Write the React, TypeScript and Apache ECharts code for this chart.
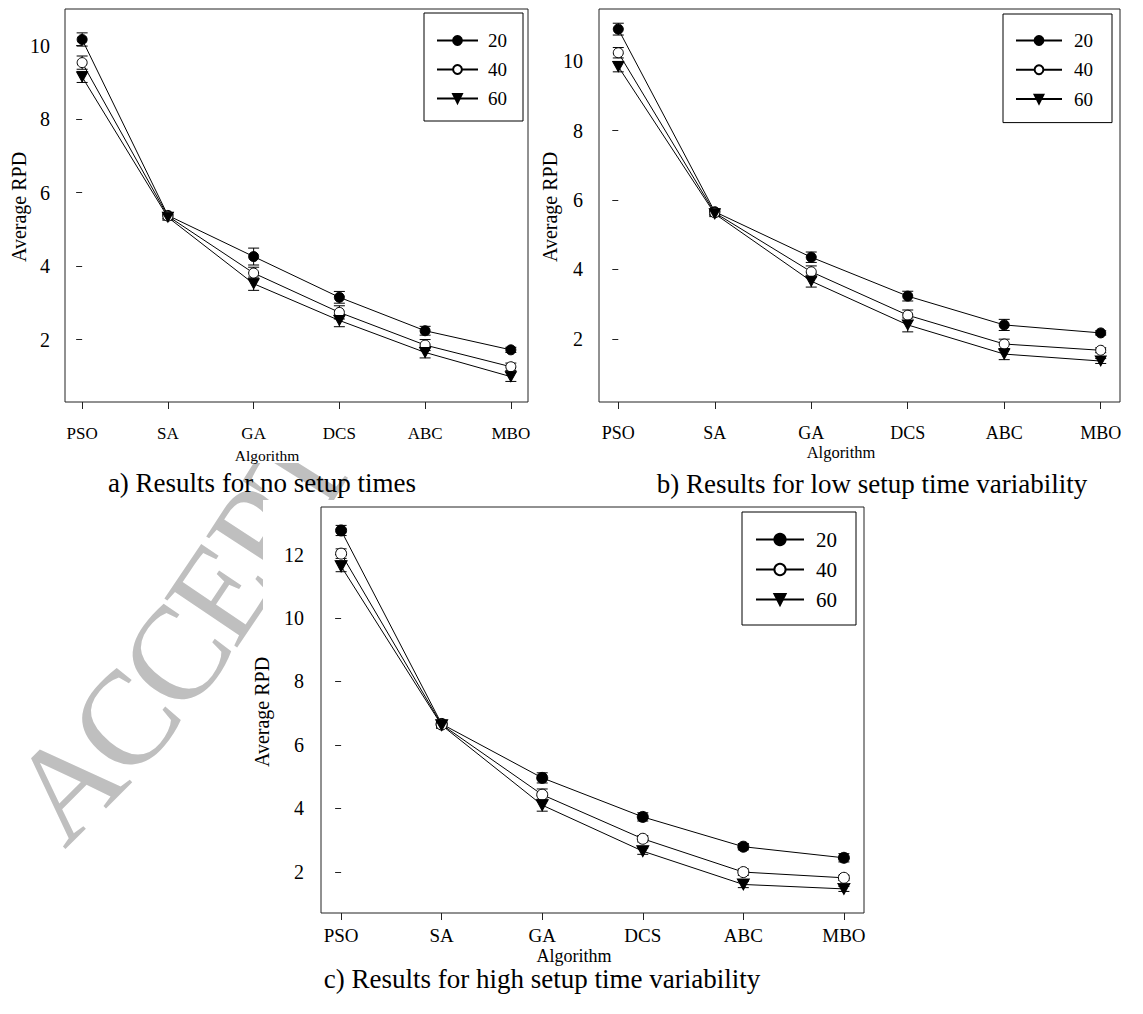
import React, { useEffect, useRef } from "react";
import * as echarts from "echarts";

const categories = ["PSO", "SA", "GA", "DCS", "ABC", "MBO"];
const groupNames = ["20", "40", "60"];

// a) no setup times
const a20 = [10.17, 5.38, 4.26, 3.15, 2.24, 1.72];
const a40 = [9.54, 5.36, 3.81, 2.74, 1.85, 1.26];
const a60 = [9.15, 5.33, 3.52, 2.52, 1.65, 0.99];
const errA20 = [0.18, 0.08, 0.23, 0.16, 0.12, 0.07];
const errA40 = [0.18, 0.08, 0.16, 0.18, 0.15, 0.1];
const errA60 = [0.15, 0.08, 0.18, 0.17, 0.15, 0.13];

// b) low setup time variability
const b20 = [10.92, 5.66, 4.35, 3.23, 2.4, 2.17];
const b40 = [10.24, 5.63, 3.93, 2.68, 1.85, 1.67];
const b60 = [9.84, 5.6, 3.66, 2.4, 1.56, 1.36];
const errB20 = [0.17, 0.08, 0.15, 0.14, 0.16, 0.06];
const errB40 = [0.15, 0.08, 0.17, 0.15, 0.14, 0.07];
const errB60 = [0.15, 0.08, 0.17, 0.2, 0.16, 0.07];

// c) high setup time variability
const c20 = [12.76, 6.66, 4.96, 3.73, 2.79, 2.44];
const c40 = [12.03, 6.64, 4.43, 3.04, 1.99, 1.81];
const c60 = [11.63, 6.62, 4.1, 2.65, 1.6, 1.46];
const errC20 = [0.16, 0.1, 0.16, 0.13, 0.1, 0.13];
const errC40 = [0.15, 0.1, 0.18, 0.1, 0.1, 0.08];
const errC60 = [0.17, 0.1, 0.19, 0.1, 0.1, 0.08];

const yTicksA = [2, 4, 6, 8, 10];
const yTicksB = [2, 4, 6, 8, 10];
const yTicksC = [2, 4, 6, 8, 10, 12];

const captions = [
  "a) Results for no setup times",
  "b) Results for low setup time variability",
  "c) Results for high setup time variability",
];
const xName = "Algorithm";
const yName = "Average RPD";
const watermarkLetters = ["A", "C", "C", "E", "P", "T"];

const FONT = "'Liberation Serif', 'Times New Roman', serif";
const INK = "#000";
const FRAME = "#222";
const TRI = "path://M0,0 L10,0 L5,9 Z";

const panels = [
  {
    grid: { left: 65, top: 9, width: 463, height: 393 },
    yMin: 0.3, yMax: 11, yTicks: yTicksA,
    values: [a20, a40, a60], errors: [errA20, errA40, errA60],
    xLabelSize: 17, xLabelMargin: 23, yLabelMargin: 15, symbolSize: 10, xNameSize: 15.5,
    legend: { left: 424, top: 13, padding: [18, 16, 13, 12], itemWidth: 41, itemHeight: 11, fontSize: 19, lineHeight: 18, itemGap: 10, textPad: 5 },
    xNamePos: [267, 455], yNamePos: [19, 207], captionPos: [262, 483],
  },
  {
    grid: { left: 599, top: 9, width: 521, height: 393 },
    yMin: 0.18, yMax: 11.5, yTicks: yTicksB,
    values: [b20, b40, b60], errors: [errB20, errB40, errB60],
    xLabelSize: 18, xLabelMargin: 22, yLabelMargin: 16, symbolSize: 10, xNameSize: 16.5,
    legend: { left: 1003, top: 14, padding: [17, 19, 14, 12], itemWidth: 46, itemHeight: 11, fontSize: 19, lineHeight: 18, itemGap: 10.3, textPad: 7 },
    xNamePos: [841, 452], yNamePos: [550, 207], captionPos: [872, 484],
  },
  {
    grid: { left: 321, top: 507, width: 543, height: 406 },
    yMin: 0.7, yMax: 13.5, yTicks: yTicksC,
    values: [c20, c40, c60], errors: [errC20, errC40, errC60],
    xLabelSize: 19, xLabelMargin: 13, yLabelMargin: 17, symbolSize: 11, xNameSize: 18,
    legend: { left: 742, top: 512, padding: [17, 19, 15, 13], itemWidth: 48, itemHeight: 14, fontSize: 21, lineHeight: 20, itemGap: 9, textPad: 7 },
    xNamePos: [574, 956], yNamePos: [262, 712], captionPos: [542, 979],
  },
];

const seriesLook = [
  { symbol: "circle", fill: "#000" },
  { symbol: "circle", fill: "#fff" },
  { symbol: TRI, fill: "#000" },
];

function errorBarRender(params: any, api: any) {
  const x = api.value(0);
  const y = api.value(1);
  const e = api.value(2);
  const top = api.coord([x, y + e]);
  const bot = api.coord([x, y - e]);
  const hw = 5.5;
  const style = { stroke: INK, lineWidth: 1 };
  return {
    type: "group",
    children: [
      { type: "line", shape: { x1: top[0], y1: top[1], x2: bot[0], y2: bot[1] }, style },
      { type: "line", shape: { x1: top[0] - hw, y1: top[1], x2: top[0] + hw, y2: top[1] }, style },
      { type: "line", shape: { x1: bot[0] - hw, y1: bot[1], x2: bot[0] + hw, y2: bot[1] }, style },
    ],
  };
}

function buildWatermark() {
  // letters follow a gently bending stamp line, bottom-left to upper-right
  const out: any[] = [];
  const size = 134;
  const advance = [0.72, 0.667, 0.667, 0.611, 0.556, 0.611];
  const angles = [45, 50, 54, 56, 57, 58];
  let cx = 67;
  let cy = 784;
  watermarkLetters.forEach((ch, i) => {
    const ang = (angles[i] * Math.PI) / 180;
    if (i > 0) {
      const step = ((advance[i - 1] + advance[i]) / 2) * size * 0.92;
      const mid = ((angles[i - 1] + angles[i]) / 2) * (Math.PI / 180);
      cx += Math.cos(mid) * step;
      cy -= Math.sin(mid) * step;
    }
    out.push({
      type: "text",
      x: cx,
      y: cy,
      rotation: ang,
      z: -20,
      silent: true,
      style: {
        text: ch,
        fontSize: size,
        lineHeight: Math.round(size * 0.62),
        fontFamily: FONT,
        fill: "#bfbfbf",
        align: "center",
        verticalAlign: "middle",
      },
    });
  });
  return out;
}

function buildOption() {
  const grids: any[] = [];
  const xAxes: any[] = [];
  const yAxes: any[] = [];
  const series: any[] = [];
  const legends: any[] = [];
  const graphics: any[] = [...buildWatermark()];

  // opaque chart areas covering the watermark
  graphics.push({ type: "rect", z: -10, silent: true, shape: { x: 0, y: 0, width: 1143, height: 463 }, style: { fill: "#fff" } });
  graphics.push({ type: "rect", z: -10, silent: true, shape: { x: 263, y: 500, width: 880, height: 514 }, style: { fill: "#fff" } });

  panels.forEach((p, pi) => {
    grids.push({ ...p.grid, show: true, borderColor: FRAME, borderWidth: 1, backgroundColor: "transparent", containLabel: false, outerBoundsMode: "none" });
    xAxes.push({
      type: "value",
      gridIndex: pi,
      min: -0.2,
      max: 5.2,
      axisLine: { show: false },
      splitLine: { show: false },
      axisTick: { show: true, customValues: categories.map((_, i) => i), length: 7, lineStyle: { color: FRAME, width: 1 } },
      axisLabel: {
        customValues: categories.map((_, i) => i),
        formatter: (v: number) => categories[Math.round(v)] ?? "",
        fontSize: p.xLabelSize,
        fontFamily: FONT,
        color: INK,
        margin: p.xLabelMargin,
      },
    });
    yAxes.push({
      type: "value",
      gridIndex: pi,
      min: p.yMin,
      max: p.yMax,
      axisLine: { show: false },
      splitLine: { show: false },
      axisTick: { show: true, customValues: p.yTicks, length: 6, lineStyle: { color: FRAME, width: 1 } },
      axisLabel: { customValues: p.yTicks, fontSize: 20, fontFamily: FONT, color: INK, margin: p.yLabelMargin },
    });

    groupNames.forEach((g, gi) => {
      const look = seriesLook[gi];
      const vals = p.values[gi];
      const errs = p.errors[gi];
      series.push({
        type: "custom",
        xAxisIndex: pi,
        yAxisIndex: pi,
        silent: true,
        z: 2,
        renderItem: errorBarRender,
        data: vals.map((v, i) => [i, v, errs[i]]),
      });
      series.push({
        type: "line",
        name: g,
        xAxisIndex: pi,
        yAxisIndex: pi,
        z: 3,
        symbol: look.symbol,
        symbolSize: look.symbol === TRI ? [p.symbolSize + 1, p.symbolSize] : p.symbolSize,
        showAllSymbol: true,
        lineStyle: { color: INK, width: 1 },
        itemStyle: { color: look.fill, borderColor: INK, borderWidth: 1 },
        emphasis: { disabled: true },
        data: vals.map((v, i) => [i, v]),
      });
    });

    const L = p.legend;
    legends.push({
      data: groupNames,
      orient: "vertical",
      left: L.left,
      top: L.top,
      padding: L.padding,
      itemWidth: L.itemWidth,
      itemHeight: L.itemHeight,
      itemGap: L.itemGap,
      selectedMode: false,
      borderColor: INK,
      borderWidth: 1,
      backgroundColor: "#fff",
      textStyle: { fontSize: L.fontSize, fontFamily: FONT, color: INK, lineHeight: L.lineHeight, padding: [0, 0, 0, L.textPad] },
    });

    graphics.push({
      type: "text",
      x: p.xNamePos[0],
      y: p.xNamePos[1],
      z: 50,
      style: { text: xName, fontSize: p.xNameSize, fontFamily: FONT, fill: INK, align: "center", verticalAlign: "middle" },
    });
    graphics.push({
      type: "text",
      x: p.yNamePos[0],
      y: p.yNamePos[1],
      rotation: Math.PI / 2,
      z: 50,
      style: { text: yName, fontSize: 20, fontFamily: FONT, fill: INK, align: "center", verticalAlign: "middle" },
    });
    graphics.push({
      type: "text",
      x: p.captionPos[0],
      y: p.captionPos[1],
      z: 50,
      style: { text: captions[pi], fontSize: 27, fontFamily: FONT, fill: INK, align: "center", verticalAlign: "middle" },
    });
  });

  return {
    animation: false,
    backgroundColor: "#fff",
    textStyle: { fontFamily: FONT },
    grid: grids,
    xAxis: xAxes,
    yAxis: yAxes,
    legend: legends,
    series,
    graphic: { elements: graphics },
  };
}

export default function App() {
  const ref = useRef<HTMLDivElement>(null);
  useEffect(() => {
    if (!ref.current) return;
    const chart = echarts.init(ref.current, undefined, { renderer: "svg" });
    chart.setOption(buildOption() as any);
    return () => chart.dispose();
  }, []);
  return (
    <div
      ref={ref}
      style={{ position: "absolute", left: 0, top: 0, width: 1143, height: 1014, background: "#fff" }}
    />
  );
}
